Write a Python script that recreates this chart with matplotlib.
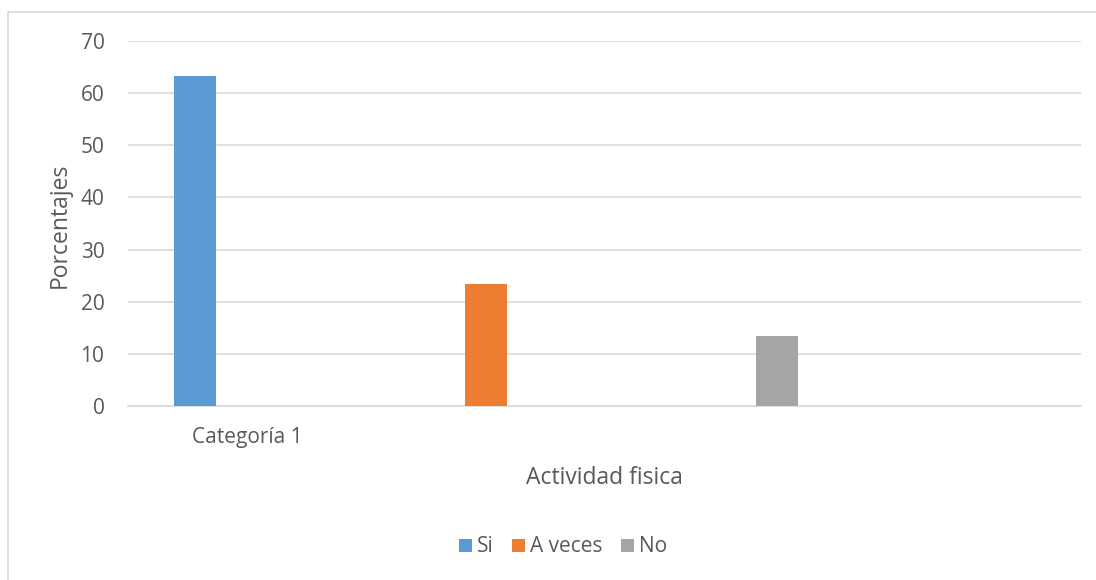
import matplotlib.pyplot as plt
from matplotlib.patches import Rectangle

# datos
series = ['Si', 'A veces', 'No']
valores = [63.33, 23.33, 13.33]
colores = ['#5b9bd5', '#ed7d31', '#a5a5a5']
categoria = 'Categoría 1'

plt.rcParams['font.family'] = ['Open Sans', 'DejaVu Sans']
gris = '#595959'

fig = plt.figure(figsize=(10.96, 5.8), dpi=100)
W, H = 1096, 580

# marco del grafico (solo se ve arriba y a la izquierda)
fig.patches.append(Rectangle((8 / W, -0.05), 1.2, 1 - 12 / H + 0.05,
                             transform=fig.transFigure, fill=False,
                             edgecolor='#d9d9d9', linewidth=1.2))

ax = fig.add_axes([128 / W, 1 - 406 / H, (1081 - 128) / W, (406 - 41) / H])

for i, (s, v, c) in enumerate(zip(series, valores, colores)):
    ax.bar(i, v, width=0.144, color=c, label=s, zorder=3)

ax.set_xlim(-0.23, 3.045)
ax.set_ylim(0, 70)
ax.set_yticks(range(0, 71, 10))
ax.yaxis.grid(True, color='#d9d9d9', linewidth=1.2, zorder=0)
ax.set_xticks([0.18])
ax.set_xticklabels([categoria])
ax.tick_params(axis='both', length=0, labelsize=15, colors=gris)
ax.tick_params(axis='x', pad=15)
ax.tick_params(axis='y', pad=17)
for sp in ['top', 'right', 'left']:
    ax.spines[sp].set_visible(False)
ax.spines['bottom'].set_color('#d9d9d9')
ax.spines['bottom'].set_linewidth(1.2)

fig.text(60 / W, 1 - 225 / H, 'Porcentajes', rotation=90, ha='center',
         va='center', fontsize=16.5, color=gris)
fig.text(604 / W, 1 - 478 / H, 'Actividad fisica', ha='center',
         va='center', fontsize=16.5, color=gris)

leg = fig.legend(loc='center', bbox_to_anchor=(563 / W, 1 - 547 / H), ncol=3,
                 frameon=False, fontsize=15, handlelength=0.6,
                 handleheight=0.6, handletextpad=0.25, columnspacing=0.9)
for t in leg.get_texts():
    t.set_color(gris)

fig.savefig('out.png', dpi=100)
